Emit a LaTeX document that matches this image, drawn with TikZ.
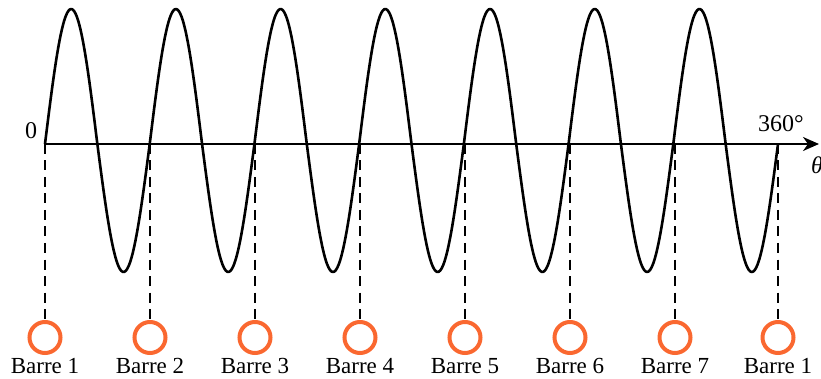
\documentclass[tikz,border=0pt]{standalone}
\usepackage{fontspec}
\setmainfont{Liberation Serif}
\usetikzlibrary{arrows.meta}
\definecolor{barre}{RGB}{250,104,48}
\begin{document}
\begin{tikzpicture}[x=1pt,y=-1pt,
  wave/.style={line width=2.6pt,line join=round},
  axisline/.style={line width=2pt,-{Stealth[length=16pt,width=14pt,inset=5pt]}},
  guide/.style={line width=1.3pt,dash pattern=on 10pt off 6.5pt},
  barrecircle/.style={circle,draw=barre,line width=4pt,minimum size=31pt,inner sep=0pt},
  barrelabel/.style={font=\fontsize{23}{25}\selectfont,inner sep=0pt,anchor=base},
  axlabel/.style={font=\fontsize{24}{26}\selectfont,inner sep=0pt}]
\useasboundingbox (0,0) rectangle (821,379);
\coordinate (o) at (45,144);
\coordinate (axend) at (819,144);
\draw[axisline] (o) -- (axend);
\draw[wave] plot[domain=0:2520,samples=500,smooth] ({45+\x/360*104.714},{144-131.5*sin(\x)-3.5*abs(sin(\x))});
\node[axlabel,anchor=base] (zero) at (31,139) {0};
\node[axlabel,anchor=base] (deg) at (781,132) {360°};
\node[axlabel,anchor=base west] (theta) at (811,174) {\itshape θ};
\foreach \i/\xx/\lab in {1/45/1,2/150/2,3/255/3,4/360/4,5/465/5,6/570/6,7/675/7,8/778/1}{
  \coordinate (a\i) at (\xx,144);
  \node[barrecircle] (b\i) at (\xx,337.5) {};
  \draw[guide] (a\i) -- (b\i.north);
  \node[barrelabel] (l\i) at (\xx,373) {Barre \lab};
}
\end{tikzpicture}
\end{document}
